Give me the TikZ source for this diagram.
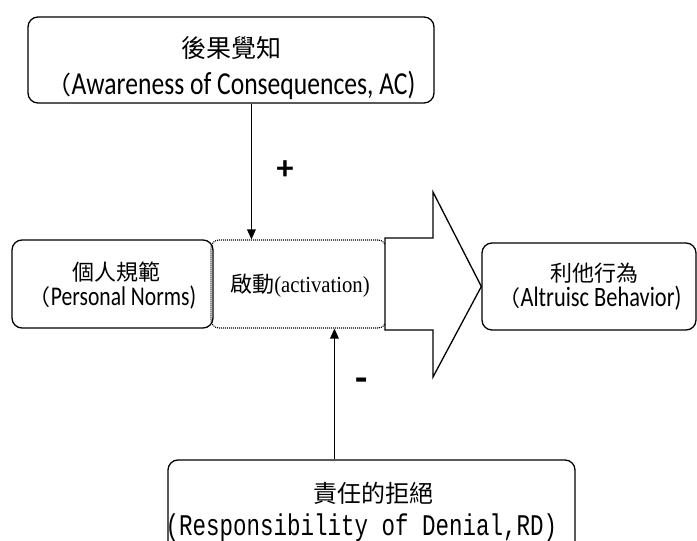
\documentclass[tikz,border=0pt]{standalone}
\usepackage{fontspec}
\usetikzlibrary{arrows.meta}
\newfontfamily\cjk{Noto Sans CJK TC}
\newfontfamily\en[FakeStretch=0.8]{Carlito}
\newfontfamily\enb{Carlito}
\newfontfamily\tm[FakeStretch=0.9]{Liberation Serif}
\newfontfamily\mono[FakeStretch=0.75]{Liberation Mono}
\begin{document}
\begin{tikzpicture}[x=1pt,y=-1pt,
  box/.style={draw, line width=1.3pt, rounded corners=10pt, inner sep=0pt},
  dotbox/.style={draw, line width=1.1pt, dash pattern=on 1pt off 1pt, rounded corners=8pt, inner sep=0pt},
  txt/.style={inner sep=0pt, anchor=base},
  conn/.style={line width=1.6pt, -{Triangle[width=8.5pt,length=10pt]}},
  big/.style={draw, line width=1.3pt, fill=white, line join=miter},
  sign/.style={inner sep=0pt, font=\enb\bfseries\fontsize{34}{34}\selectfont}]
\useasboundingbox (0,0) rectangle (697,541);
\clip (0,0) rectangle (697,541);
% boxes
\node[box, minimum width=406pt, minimum height=86pt] (ac) at (231,60) {};
\node[box, minimum width=201pt, minimum height=88pt] (pn) at (112.5,284) {};
\node[dotbox, minimum width=175pt, minimum height=88pt] (act) at (298.5,284) {};
\node[box, minimum width=214pt, minimum height=87pt] (ab) at (589,286.5) {};
\node[box, minimum width=407pt, minimum height=100pt] (rd) at (371.5,510) {};
% big arrow
\draw[big] (385,238) -- (433,238) -- (433,192) -- (ab.west) -- (433,377) -- (433,330) -- (385,330) -- cycle;
% texts
\node[txt] (acz) at (231,57) {\cjk\fontsize{25}{25}\selectfont 後果覺知};
\node[txt] (ace) at (231,94) {{\cjk\fontsize{25}{25}\selectfont （}\en\fontsize{32}{32}\selectfont Awareness of Consequences, AC)};
\node[txt] (pnz) at (116,280) {\cjk\fontsize{22}{22}\selectfont 個人規範};
\node[txt] (pne) at (112.5,305) {{\cjk\fontsize{22}{22}\selectfont （}\en\fontsize{27}{27}\selectfont Personal Norms)};
\node[txt] (actt) at (300,292) {{\cjk\fontsize{22}{22}\selectfont 啟動}\tm\fontsize{23}{23}\selectfont (activation)};
\node[txt] (abz) at (594,281) {\cjk\fontsize{22}{22}\selectfont 利他行為};
\node[txt] (abe) at (590,306) {{\cjk\fontsize{22}{22}\selectfont （}\en\fontsize{28}{28}\selectfont Altruisc Behavior)};
\node[txt] (rdz) at (373,502) {\cjk\fontsize{24}{24}\selectfont 責任的拒絕};
\node[txt] (rde) at (361.5,535) {\mono\fontsize{30}{30}\selectfont (Responsibility of Denial,RD)};
% connectors
\coordinate (t1) at ([xshift=41pt]act.north west);
\coordinate (b1) at ([xshift=124pt]act.south west);
\draw[conn] (ac.south -| t1) -- (t1);
\draw[conn] (rd.north -| b1) -- (b1);
\node[sign] (plus) at (285,170) {+};
\node[sign, font=\enb\bfseries\fontsize{40}{40}\selectfont] (minus) at (362,385) {-};
\end{tikzpicture}
\end{document}
